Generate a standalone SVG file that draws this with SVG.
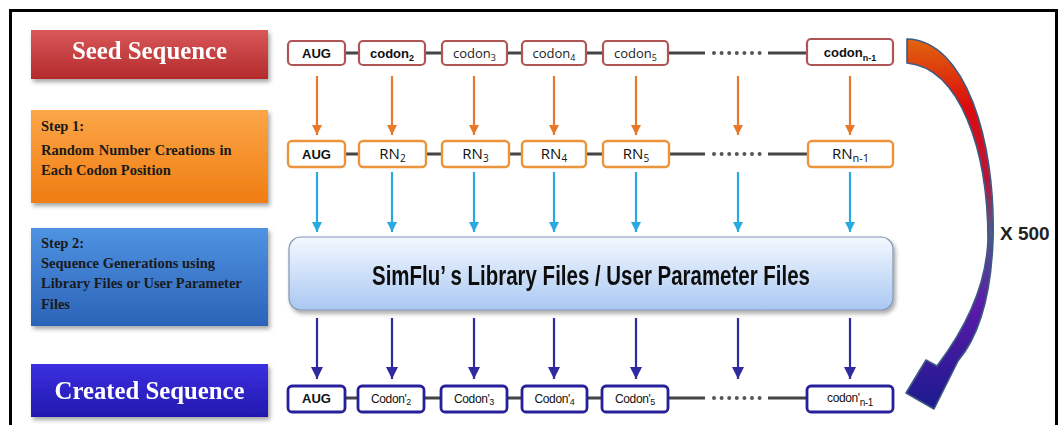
<svg xmlns="http://www.w3.org/2000/svg" width="1063" height="425" viewBox="0 0 1063 425">
<defs>
<style>
.lbl{font-family:"Liberation Serif","Times New Roman",serif;font-weight:bold;}
.big{font-size:26px;fill:#fff;text-anchor:middle;}
.step{font-size:14.5px;fill:#1a1a1a;}
.b1{fill:#fff;stroke:#b05555;stroke-width:2.2;}
.b2{fill:#fff;stroke:#ec943c;stroke-width:2.4;}
.b3{fill:#fff;stroke:#27209a;stroke-width:2.8;}
.ta{font-family:"Liberation Sans",Arial,sans-serif;font-weight:bold;font-size:13px;fill:#111;text-anchor:middle;}
.tc{font-family:"Open Sans","Liberation Sans",sans-serif;font-size:13px;fill:#222;text-anchor:middle;}
.tr{font-family:"Open Sans","Liberation Sans",sans-serif;font-size:15px;fill:#111;text-anchor:middle;}
.tb{font-family:"Liberation Sans",Arial,sans-serif;font-size:12px;fill:#111;text-anchor:middle;letter-spacing:-0.4px;}
.seg{stroke:#444;stroke-width:3;fill:none;}
.dots{stroke:#555;stroke-width:4;stroke-linecap:round;stroke-dasharray:0 7.6;fill:none;}
.ao{stroke:#e8782a;stroke-width:2.2;marker-end:url(#mo);}
.ac{stroke:#29a9e0;stroke-width:2.2;marker-end:url(#mc);}
.an{stroke:#2e2aa0;stroke-width:2.2;marker-end:url(#mn);}
</style>
<linearGradient id="gSeed" x1="0" y1="0" x2="0" y2="1"><stop offset="0" stop-color="#d9585a"/><stop offset="1" stop-color="#b32a2a"/></linearGradient>
<linearGradient id="gStep1" x1="0" y1="0" x2="0" y2="1"><stop offset="0" stop-color="#fba648"/><stop offset="1" stop-color="#f07d12"/></linearGradient>
<linearGradient id="gStep2" x1="0" y1="0" x2="0" y2="1"><stop offset="0" stop-color="#4f93e2"/><stop offset="1" stop-color="#2b63b8"/></linearGradient>
<linearGradient id="gCreated" x1="0" y1="0" x2="0" y2="1"><stop offset="0" stop-color="#3b30e0"/><stop offset="1" stop-color="#2218ae"/></linearGradient>
<linearGradient id="gLib" x1="0" y1="0" x2="0" y2="1"><stop offset="0" stop-color="#f4f8ff"/><stop offset="1" stop-color="#a9c8f2"/></linearGradient>
<linearGradient id="gLoop" gradientUnits="userSpaceOnUse" x1="0" y1="39" x2="0" y2="410">
<stop offset="0" stop-color="#e0660e"/><stop offset="0.18" stop-color="#dd0c0c"/><stop offset="0.38" stop-color="#b8143a"/><stop offset="0.52" stop-color="#4e5a8a"/><stop offset="0.72" stop-color="#5a1aa8"/><stop offset="1" stop-color="#1a1a8e"/>
</linearGradient>
<filter id="sh" x="-10%" y="-20%" width="130%" height="150%"><feDropShadow dx="2" dy="3" stdDeviation="2" flood-color="#000" flood-opacity="0.35"/></filter>
<marker id="mo" markerUnits="userSpaceOnUse" markerWidth="12" markerHeight="10" refX="10" refY="5" orient="auto"><path d="M0,0 L10,5 L0,10 Z" fill="#e8782a"/></marker>
<marker id="mc" markerUnits="userSpaceOnUse" markerWidth="12" markerHeight="10" refX="10" refY="5" orient="auto"><path d="M0,0 L10,5 L0,10 Z" fill="#29a9e0"/></marker>
<marker id="mn" markerUnits="userSpaceOnUse" markerWidth="14" markerHeight="12" refX="12" refY="6" orient="auto"><path d="M0,0 L12,6 L0,12 Z" fill="#2e2aa0"/></marker>
</defs>
<rect x="0" y="0" width="1063" height="425" fill="#fff"/>
<rect x="10.5" y="10.5" width="1046" height="440" fill="none" stroke="#000" stroke-width="3"/>

<g id="seed-label" filter="url(#sh)"><rect x="31" y="30" width="237" height="49" fill="url(#gSeed)"/><text class="lbl big" x="149.5" y="59" textLength="155" lengthAdjust="spacingAndGlyphs">Seed Sequence</text></g>
<g id="step1-label"><rect x="31" y="110" width="237" height="93" fill="url(#gStep1)" filter="url(#sh)"/>
<text class="lbl step" x="41" y="131">Step 1:</text><text class="lbl step" x="41" y="155" word-spacing="1">Random Number Creations in</text><text class="lbl step" x="41" y="175">Each Codon Position</text></g>
<g id="step2-label"><rect x="31" y="228" width="237" height="98" fill="url(#gStep2)" filter="url(#sh)"/>
<text class="lbl step" x="41" y="248">Step 2:</text><text class="lbl step" x="41" y="268">Sequence Generations  using</text><text class="lbl step" x="41" y="288">Library  Files or User Parameter</text><text class="lbl step" x="41" y="309">Files</text></g>
<g id="created-label" filter="url(#sh)"><rect x="31" y="364" width="237" height="53" fill="url(#gCreated)"/><text class="lbl big" x="149.5" y="399" textLength="190" lengthAdjust="spacingAndGlyphs">Created Sequence</text></g>

<g id="connectors">
<path class="seg" d="M345,53 H705 M768,53 H807"/><path class="dots" d="M714,53 H762"/>
<path class="seg" d="M345,154 H705 M768,154 H808"/><path class="dots" d="M714,154 H762"/>
<path class="seg" d="M345,398 H705 M768,398 H807"/><path class="dots" d="M714,398 H762"/>
<line class="ao" x1="317" y1="76" x2="317" y2="135"/><line class="ao" x1="392" y1="76" x2="392" y2="135"/><line class="ao" x1="474" y1="76" x2="474" y2="135"/><line class="ao" x1="554" y1="76" x2="554" y2="135"/><line class="ao" x1="636" y1="76" x2="636" y2="135"/><line class="ao" x1="738" y1="76" x2="738" y2="135"/><line class="ao" x1="850" y1="76" x2="850" y2="135"/>
<line class="ac" x1="317" y1="172" x2="317" y2="232"/><line class="ac" x1="392" y1="172" x2="392" y2="232"/><line class="ac" x1="474" y1="172" x2="474" y2="232"/><line class="ac" x1="554" y1="172" x2="554" y2="232"/><line class="ac" x1="636" y1="172" x2="636" y2="232"/><line class="ac" x1="738" y1="172" x2="738" y2="232"/><line class="ac" x1="850" y1="172" x2="850" y2="232"/>
<line class="an" x1="317" y1="318" x2="317" y2="379"/><line class="an" x1="392" y1="318" x2="392" y2="379"/><line class="an" x1="474" y1="318" x2="474" y2="379"/><line class="an" x1="554" y1="318" x2="554" y2="379"/><line class="an" x1="636" y1="318" x2="636" y2="379"/><line class="an" x1="738" y1="318" x2="738" y2="379"/><line class="an" x1="850" y1="318" x2="850" y2="379"/>
</g>

<g id="seed-row">
<g id="s1"><rect class="b1" x="288" y="41" width="57" height="24" rx="4"/><text class="ta" x="316.5" y="58">AUG</text></g>
<g id="s2"><rect class="b1" x="359" y="41" width="66" height="24" rx="4"/><text class="ta" x="392" y="58">codon<tspan font-size="9" dy="3">2</tspan></text></g>
<g id="s3"><rect class="b1" x="442" y="41" width="65" height="24" rx="4"/><text class="tc" x="474.5" y="58">codon<tspan font-size="9" dy="3">3</tspan></text></g>
<g id="s4"><rect class="b1" x="522" y="41" width="64" height="24" rx="4"/><text class="tc" x="554" y="58">codon<tspan font-size="9" dy="3">4</tspan></text></g>
<g id="s5"><rect class="b1" x="603" y="41" width="65" height="24" rx="4"/><text class="tc" x="635.5" y="58">codon<tspan font-size="9" dy="3">5</tspan></text></g>
<g id="sn"><rect class="b1" x="807" y="39" width="86" height="26" rx="4"/><text class="ta" x="850" y="57">codon<tspan font-size="9" dy="4">n-1</tspan></text></g>
</g>

<g id="rn-row">
<g id="r1"><rect class="b2" x="288" y="141" width="57" height="26" rx="4"/><text class="ta" x="316.5" y="159">AUG</text></g>
<g id="r2"><rect class="b2" x="359" y="141" width="67" height="26" rx="4"/><text class="tr" x="392.5" y="159">RN<tspan font-size="10" dy="3">2</tspan></text></g>
<g id="r3"><rect class="b2" x="442" y="141" width="67" height="26" rx="4"/><text class="tr" x="475.5" y="159">RN<tspan font-size="10" dy="3">3</tspan></text></g>
<g id="r4"><rect class="b2" x="522" y="141" width="64" height="26" rx="4"/><text class="tr" x="554" y="159">RN<tspan font-size="10" dy="3">4</tspan></text></g>
<g id="r5"><rect class="b2" x="603" y="141" width="66" height="26" rx="4"/><text class="tr" x="636" y="159">RN<tspan font-size="10" dy="3">5</tspan></text></g>
<g id="rn"><rect class="b2" x="808" y="141" width="85" height="26" rx="4"/><text class="tr" x="850.5" y="159">RN<tspan font-size="11" dy="3">n-1</tspan></text></g>
</g>

<g id="library" filter="url(#sh)"><rect x="289" y="237" width="604" height="73" rx="12" fill="url(#gLib)" stroke="#8296b4" stroke-width="1.2"/>
<text x="591" y="285" font-family="Liberation Sans Narrow,Liberation Sans,Arial,sans-serif" font-weight="bold" font-size="27" fill="#111" text-anchor="middle" textLength="438" lengthAdjust="spacingAndGlyphs">SimFlu’ s Library Files / User Parameter Files</text></g>

<g id="created-row">
<g id="c1"><rect class="b3" x="288" y="386" width="57" height="26" rx="4"/><text class="ta" x="316.5" y="403" font-size="12">AUG</text></g>
<g id="c2"><rect class="b3" x="358" y="386" width="66" height="26" rx="4"/><text class="tb" x="391" y="403">Codon'<tspan font-size="9" dy="2">2</tspan></text></g>
<g id="c3"><rect class="b3" x="441" y="386" width="66" height="26" rx="4"/><text class="tb" x="474" y="403">Codon'<tspan font-size="9" dy="2">3</tspan></text></g>
<g id="c4"><rect class="b3" x="522" y="386" width="65" height="26" rx="4"/><text class="tb" x="554.5" y="403">Codon'<tspan font-size="9" dy="2">4</tspan></text></g>
<g id="c5"><rect class="b3" x="602" y="386" width="66" height="26" rx="4"/><text class="tb" x="635" y="403">Codon'<tspan font-size="9" dy="2">5</tspan></text></g>
<g id="cn"><rect class="b3" x="807" y="386" width="86" height="26" rx="4"/><text class="tb" x="850" y="402">codon'<tspan font-size="10" dy="4">n-1</tspan></text></g>
</g>

<g id="loop">
<path d="M907,39 C965,40 996,140 993,240 C991,295 980,335 958,361 L934,409 L906,393 L926,360 L937,366 C962,333 986,290 988,240 C988,150 960,68 907,63 Z" fill="url(#gLoop)" stroke="#3e5a82" stroke-width="1.6" stroke-linejoin="round"/>
<text x="1000" y="240" font-family="Liberation Sans,Arial,sans-serif" font-weight="bold" font-size="19" fill="#222">X 500</text>
</g>
</svg>
